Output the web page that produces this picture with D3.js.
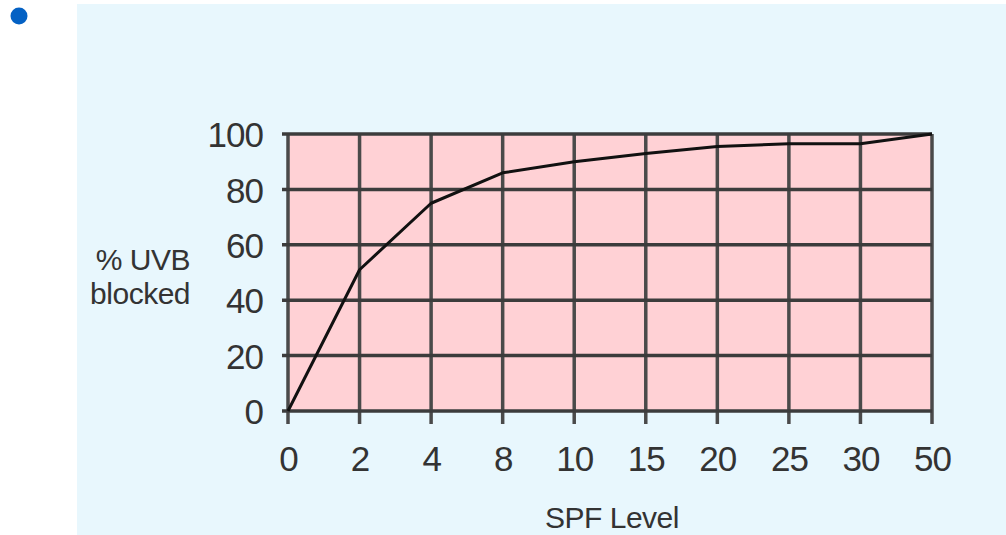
<!DOCTYPE html>
<html><head><meta charset="utf-8">
<script src="https://cdn.jsdelivr.net/npm/d3@7"></script>
<style>
html,body{margin:0;padding:0;background:#fff;}
svg{display:block;}
</style></head>
<body>
<script>
const spfLevels = ["0","2","4","8","10","15","20","25","30","50"];
const uvbBlocked = [0, 51, 75, 86, 90, 93, 95.5, 96.5, 96.5, 100];
const yTicks = [0, 20, 40, 60, 80, 100];
const yLabel = ["% UVB", "blocked"];
const xLabel = "SPF Level";

const W = 1006, H = 535;
const svg = d3.select("body").append("svg").attr("width", W).attr("height", H);

svg.append("circle").attr("cx", 19).attr("cy", 16).attr("r", 8.5).attr("fill", "#0461c4");
svg.append("rect").attr("x", 77).attr("y", 4).attr("width", W - 77).attr("height", H - 4).attr("fill", "#e8f7fd");

const x = d3.scalePoint().domain(spfLevels).range([288, 932]);
const y = d3.scaleLinear().domain([0, 100]).range([411, 134]);

const font = "'Liberation Sans', Arial, sans-serif";

svg.append("rect").attr("x", x.range()[0]).attr("y", y(100))
  .attr("width", x.range()[1] - x.range()[0]).attr("height", y(0) - y(100))
  .attr("fill", "#ffd1d5");

const g = svg.append("g");
g.selectAll("line.v").data(spfLevels).join("line")
  .attr("x1", d => x(d)).attr("x2", d => x(d))
  .attr("y1", y(100)).attr("y2", y(0) + 13)
  .attr("stroke", "#4a4a4a").attr("stroke-width", 3.5);
g.selectAll("line.h").data(yTicks).join("line")
  .attr("x1", x.range()[0] - 6).attr("x2", x.range()[1])
  .attr("y1", d => y(d)).attr("y2", d => y(d))
  .attr("stroke", "#3c3c3c").attr("stroke-width", 3.5);

const line = d3.line().x(d => x(d[0])).y(d => y(d[1])).curve(d3.curveLinear);
svg.append("path").datum(spfLevels.map((s, i) => [s, uvbBlocked[i]]))
  .attr("d", line).attr("fill", "none").attr("stroke", "#111").attr("stroke-width", 3)
  .attr("stroke-linejoin", "round");

const xAxis = svg.append("g").attr("transform", `translate(0,${y(0)})`)
  .call(d3.axisBottom(x).tickSize(0).tickPadding(0));
xAxis.select(".domain").remove();
xAxis.selectAll("text").attr("font-family", font).attr("font-size", 35)
  .attr("letter-spacing", -1).attr("fill", "#333").attr("y", 60).attr("dy", 0);

const yAxis = svg.append("g").attr("transform", `translate(${x.range()[0]},0)`)
  .call(d3.axisLeft(y).tickValues(yTicks).tickSize(0).tickPadding(25));
yAxis.select(".domain").remove();
yAxis.selectAll("text").attr("font-family", font).attr("font-size", 35)
  .attr("letter-spacing", -1).attr("fill", "#333").attr("dy", "0.36em");

svg.append("text").attr("x", 612).attr("y", 528).attr("text-anchor", "middle")
  .attr("font-family", font).attr("font-size", 30).attr("fill", "#333")
  .attr("letter-spacing", -0.5).text(xLabel);

svg.selectAll("text.yl").data(yLabel).join("text")
  .attr("x", 190).attr("y", (d, i) => 270 + i * 34).attr("text-anchor", "end")
  .attr("font-family", font).attr("font-size", 30).attr("fill", "#333")
  .attr("letter-spacing", -0.5).text(d => d);
</script>
</body></html>
